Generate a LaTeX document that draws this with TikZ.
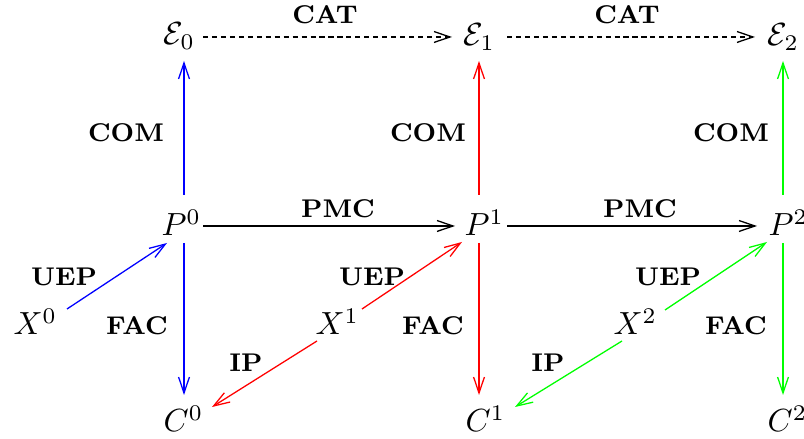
\documentclass[tikz,border=0pt]{standalone}
\usetikzlibrary{arrows.meta,calc}
\begin{document}
\begin{tikzpicture}[x=0.3125pt,y=-0.3125pt,
  obj/.style={inner sep=0pt,anchor=base west},
  lab/.style={inner sep=0pt,font=\fontsize{8}{9}\selectfont\bfseries},
  arr/.style={-{Straight Barb[length=5pt,width=3.4pt]},line width=0.4pt},
  dash arr/.style={arr,dash pattern=on 1.6pt off 1.2pt}]
\useasboundingbox (0,0) rectangle (804,439);
% objects
\node[obj] (E0) at (163,45) {$\mathcal{E}_0$};
\node[obj] (E1) at (463,46) {$\mathcal{E}_1$};
\node[obj] (E2) at (767,46) {$\mathcal{E}_2$};
\node[obj] (P0) at (161,236) {$P^0$};
\node[obj] (P1) at (464,236) {$P^1$};
\node[obj] (P2) at (768,236) {$P^2$};
\node[obj] (X0) at (13,335) {$X^0$};
\node[obj] (X1) at (315,335) {$X^1$};
\node[obj] (X2) at (613,335) {$X^2$};
\node[obj] (C0) at (163,432) {$C^0$};
\node[obj] (C1) at (465,432) {$C^1$};
\node[obj] (C2) at (767,432) {$C^2$};
% labels
\node[lab] (cat1) at (325,15) {CAT};
\node[lab] (cat2) at (627,15) {CAT};
\node[lab] (com0) at (126,133) {COM};
\node[lab] (com1) at (428,133) {COM};
\node[lab] (com2) at (731,133) {COM};
\node[lab] (pmc1) at (338,209) {PMC};
\node[lab] (pmc2) at (640,209) {PMC};
\node[lab] (uep0) at (64,277) {UEP};
\node[lab] (uep1) at (372,277) {UEP};
\node[lab] (uep2) at (668,277) {UEP};
\node[lab] (fac0) at (137,326) {FAC};
\node[lab] (fac1) at (433,326) {FAC};
\node[lab] (fac2) at (736,326) {FAC};
\node[lab] (ip1) at (246,363) {IP};
\node[lab] (ip2) at (548,363) {IP};
% dashed CAT arrows
\draw[dash arr] ($(E0.base west)+(40,-8)$) -- ($(E1.base west)+(-11,-9)$);
\draw[dash arr] ($(E1.base west)+(44,-9)$) -- ($(E2.base west)+(-12,-9)$);
% PMC arrows
\draw[arr] ($(P0.base west)+(42,-10)$) -- ($(P1.base west)+(-9,-10)$);
\draw[arr] ($(P1.base west)+(43,-10)$) -- ($(P2.base west)+(-11,-10)$);
% column 0 (blue)
\draw[arr,blue] ($(P0.base west)+(23,-41)$) -- ($(E0.base west)+(21,16)$);
\draw[arr,blue] ($(P0.base west)+(23,7)$) -- ($(C0.base west)+(21,-37)$);
\draw[arr,blue] ($(X0.base west)+(54,-26)$) -- ($(P0.base west)+(6,7)$);
% column 1 (red)
\draw[arr,red] ($(P1.base west)+(15,-41)$) -- ($(E1.base west)+(16,15)$);
\draw[arr,red] ($(P1.base west)+(15,7)$) -- ($(C1.base west)+(14,-37)$);
\draw[arr,red] ($(X1.base west)+(47,-26)$) -- ($(P1.base west)+(-2,6)$);
\draw[arr,red] ($(X1.base west)+(2,6)$) -- ($(C0.base west)+(49,-25)$);
% column 2 (green)
\draw[arr,green] ($(P2.base west)+(15,-41)$) -- ($(E2.base west)+(16,15)$);
\draw[arr,green] ($(P2.base west)+(15,7)$) -- ($(C2.base west)+(16,-37)$);
\draw[arr,green] ($(X2.base west)+(52,-25)$) -- ($(P2.base west)+(-1,6)$);
\draw[arr,green] ($(X2.base west)+(9,6)$) -- ($(C1.base west)+(50,-25)$);
\end{tikzpicture}
\end{document}
